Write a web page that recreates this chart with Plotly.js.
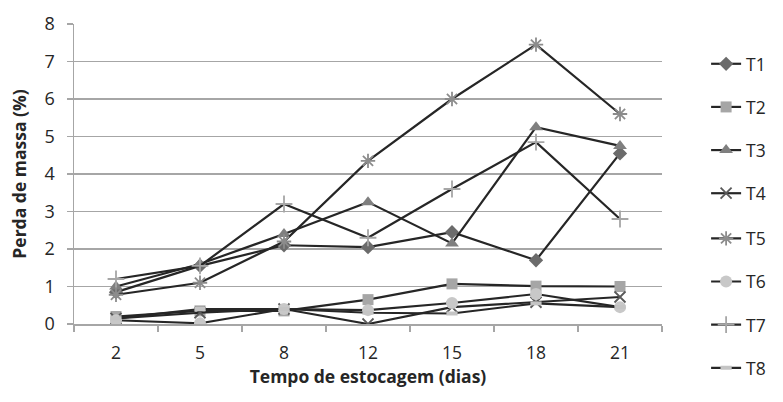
<!DOCTYPE html>
<html><head><meta charset="utf-8">
<script src="https://cdn.plot.ly/plotly-3.0.1.min.js"></script>
<style>html,body{margin:0;padding:0;background:#fff;}#c{width:783px;height:402px;}</style>
</head><body><div id="c"></div>
<script>
const days = ["2","5","8","12","15","18","21"];
const seriesNames = ["T1","T2","T3","T4","T5","T6","T7","T8"];
const T1 = [0.85, 1.55, 2.1, 2.05, 2.45, 1.7, 4.55];
const T2 = [0.2, 0.35, 0.35, 0.65, 1.07, 1.01, 1.0];
const T3 = [1.0, 1.6, 2.4, 3.25, 2.15, 5.25, 4.75];
const T4 = [0.15, 0.3, 0.4, 0.0, 0.45, 0.58, 0.72];
const T5 = [0.78, 1.1, 2.2, 4.35, 6.0, 7.45, 5.6];
const T6 = [0.1, 0.02, 0.4, 0.37, 0.56, 0.8, 0.45];
const T7 = [1.2, 1.55, 3.2, 2.3, 3.6, 4.85, 2.8];
const T8 = [0.15, 0.4, 0.4, 0.3, 0.28, 0.55, 0.45];
const values = [T1,T2,T3,T4,T5,T6,T7,T8];

const markers = [
  {symbol:"diamond", color:"#6b6b6b", size:11},
  {symbol:"square", color:"#a6a6a6", size:11},
  {symbol:"triangle-up", color:"#7f7f7f", size:12},
  {symbol:"x-thin-open", color:"#595959", size:11, line:{color:"#595959", width:1.8}},
  {symbol:"asterisk-open", color:"#8c8c8c", size:12, line:{color:"#8c8c8c", width:1.8}},
  {symbol:"circle", color:"#c8c8c8", size:12},
  {symbol:"cross-thin-open", color:"#a6a6a6", size:12, line:{color:"#a6a6a6", width:1.8}},
  {symbol:"line-ew-open", color:"#c4c4c4", size:8, line:{color:"#c4c4c4", width:4}}
];

const traces = seriesNames.map((n,i)=>({
  x: days, y: values[i], name: n, type:"scatter", mode:"lines+markers",
  legendgroup: n,
  legend: i < 4 ? "legend" : "legend2",
  line:{color:"#262626", width:2.2},
  marker: markers[i]
}));

const fam = "Open Sans, sans-serif";
const legendBase = {x:1.075, xanchor:"left", yanchor:"top", traceorder:"grouped", tracegroupgap:17.4,
          font:{family:fam, size:17.5, color:"#262626"}};
const layout = {
  width:783, height:402,
  margin:{l:74, r:115, t:24, b:78},
  paper_bgcolor:"#fff", plot_bgcolor:"#fff",
  font:{family:fam, size:17, color:"#262626"},
  showlegend:true,
  legend:Object.assign({}, legendBase, {y:0.927}),
  legend2:Object.assign({}, legendBase, {y:0.345}),
  xaxis:{type:"category", range:[-0.5,6.5], showgrid:false, showline:true, linecolor:"#a6a6a6", linewidth:1.5,
         ticks:"outside", tickson:"boundaries", ticklen:6, tickcolor:"#a6a6a6", tickwidth:1.5,
         ticklabelstandoff:12,
         tickfont:{family:fam, size:17.5, color:"#262626"},
         title:{text:"Tempo de estocagem (dias)", standoff:8, font:{family:fam, size:17.5, color:"#262626", weight:"bold"}}},
  yaxis:{range:[0,8], dtick:1, showgrid:true, gridcolor:"#a6a6a6", gridwidth:1.5, showline:true, linecolor:"#a6a6a6", linewidth:1.5,
         ticks:"outside", ticklen:6, tickcolor:"#a6a6a6", tickwidth:1.5, zeroline:false,
         ticklabelstandoff:8,
         tickfont:{family:fam, size:18, color:"#262626"},
         title:{text:"Perda de massa (%)", standoff:13, font:{family:fam, size:17.5, color:"#262626", weight:"bold"}}}
};
Plotly.newPlot("c", traces, layout, {displayModeBar:false, staticPlot:true});
</script></body></html>
